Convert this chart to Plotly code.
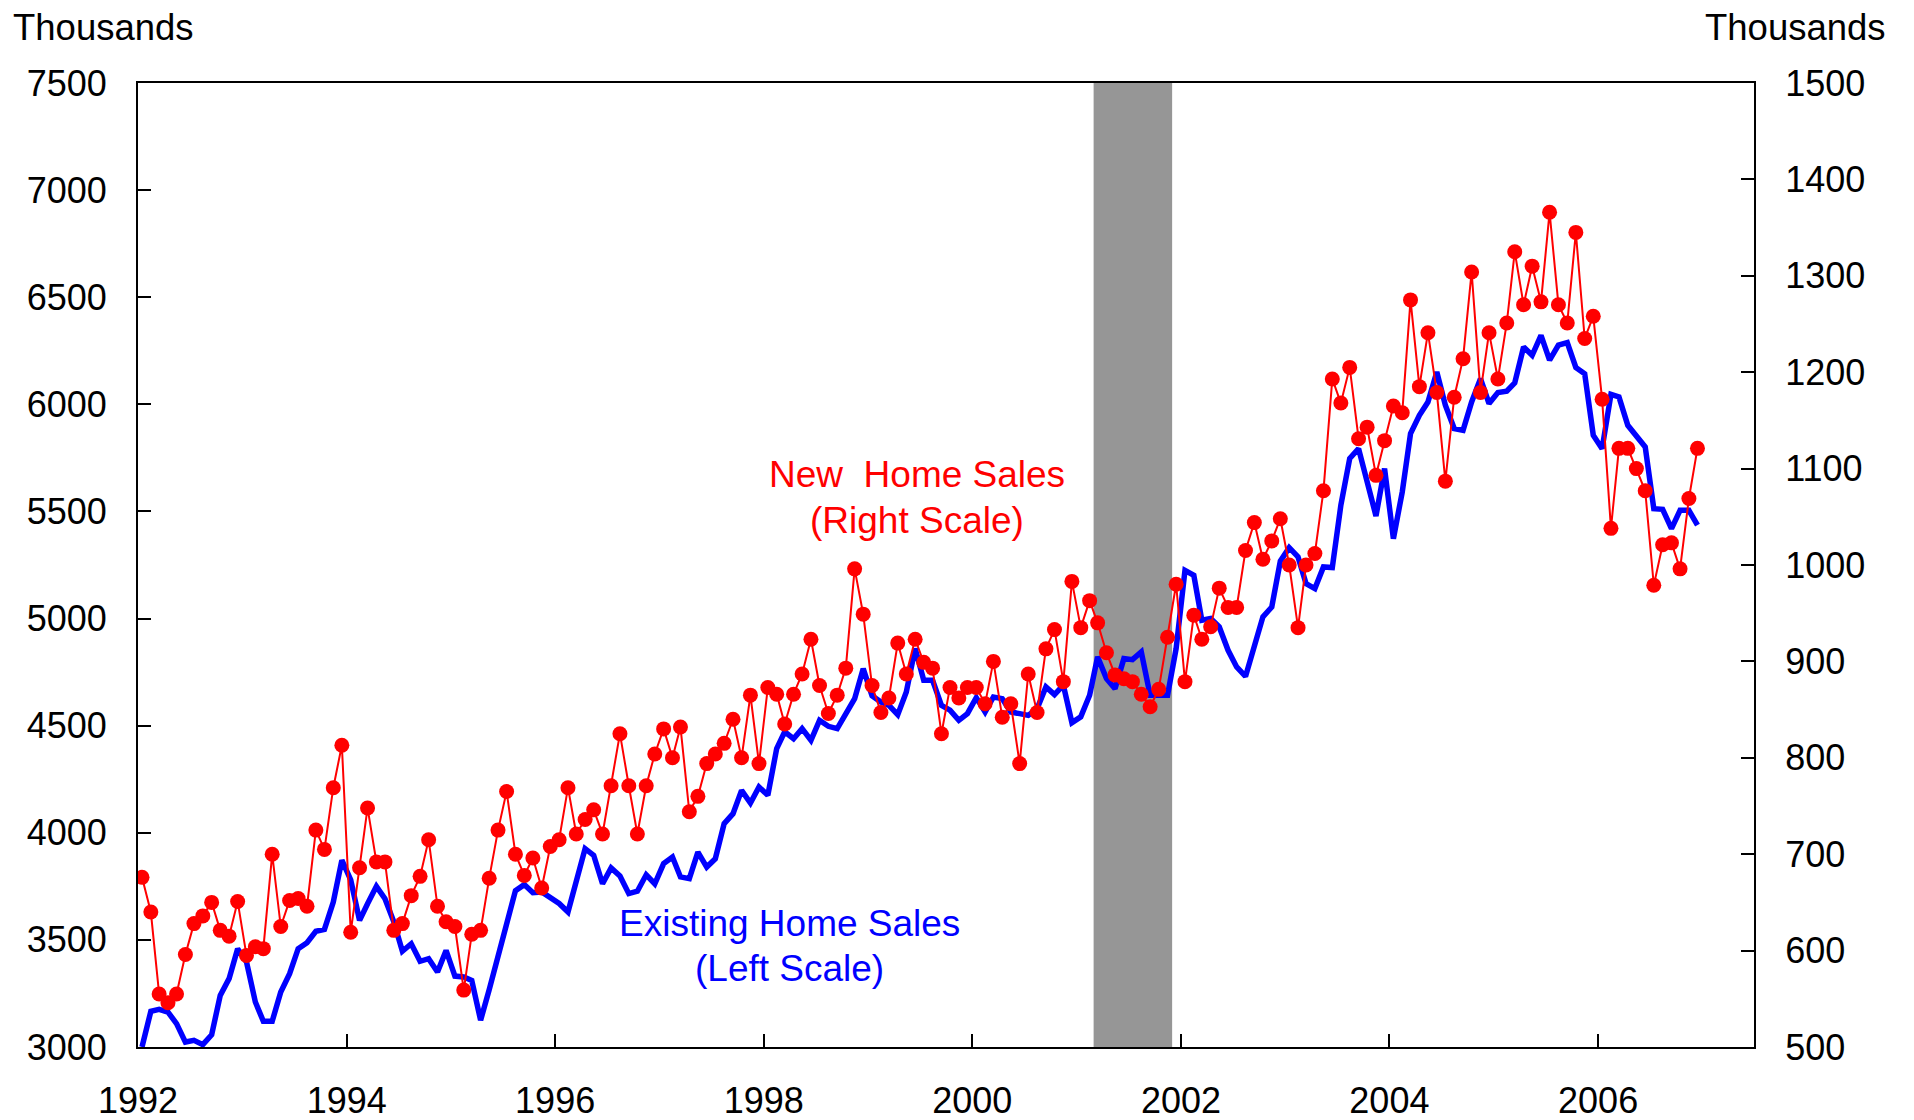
"""Existing vs new home sales, 1992-2006, monthly (thousands, SAAR) with the 2001 recession shaded."""

import pandas as pd
import plotly.graph_objects as go

# monthly observations, Jan 1992 .. Dec 2006 (plotted mid-month)
MONTHS = pd.date_range("1992-01-01", "2006-12-01", freq="MS") + pd.Timedelta(days=14)

# existing home sales, thousands (left scale)
EXISTING = [
    3000, 3167, 3176, 3163, 3109, 3023, 3031, 3011, 3057, 3241, 3319, 3459,  # 1992
    3397, 3210, 3120, 3120, 3257, 3342, 3459, 3487, 3540, 3549, 3677, 3872,  # 1993
    3780, 3591, 3669, 3750, 3692, 3584, 3447, 3482, 3400, 3412, 3350, 3451,  # 1994
    3331, 3327, 3311, 3125, 3267, 3417, 3566, 3730, 3758, 3720, 3724, 3700,  # 1995
    3670, 3630, 3778, 3926, 3895, 3762, 3836, 3798, 3716, 3727, 3804, 3762,  # 1996
    3856, 3887, 3794, 3786, 3910, 3840, 3879, 4043, 4089, 4198, 4139, 4214,  # 1997
    4175, 4393, 4471, 4439, 4486, 4432, 4525, 4497, 4486, 4556, 4626, 4766,  # 1998
    4640, 4610, 4595, 4551, 4657, 4860, 4712, 4712, 4595, 4572, 4525, 4556,  # 1999
    4631, 4564, 4634, 4626, 4564, 4556, 4548, 4579, 4681, 4645, 4689, 4514,  # 2000
    4541, 4642, 4821, 4720, 4673, 4813, 4808, 4844, 4642, 4642, 4642, 4860,  # 2001
    5225, 5202, 4992, 5000, 4961, 4852, 4774, 4730, 4867, 5008, 5054, 5268,  # 2002
    5331, 5288, 5163, 5140, 5241, 5238, 5529, 5747, 5793, 5630, 5479, 5700,  # 2003
    5373, 5591, 5863, 5949, 6011, 6151, 5996, 5887, 5879, 6011, 6120, 6004,  # 2004
    6055, 6061, 6100, 6268, 6229, 6322, 6206, 6276, 6288, 6172, 6143, 5856,  # 2005
    5793, 6047, 6035, 5902, 5848, 5801, 5513, 5510, 5420, 5505, 5505, 5436,  # 2006
]

# new home sales, thousands (right scale)
NEW = [
    676, 640, 555, 546, 555, 596, 628, 636, 650, 621, 615, 651,  # 1992
    595, 604, 602, 700, 625, 652, 654, 646, 725, 705, 769, 813,  # 1993
    619, 686, 748, 692, 692, 621, 628, 657, 677, 715, 646, 630,  # 1994
    625, 559, 617, 621, 675, 725, 765, 700, 678, 696, 665, 708,  # 1995
    715, 769, 721, 736, 746, 721, 771, 825, 771, 721, 771, 804,  # 1996
    830, 800, 832, 744, 760, 794, 804, 815, 840, 800, 865, 794,  # 1997
    873, 866, 835, 866, 887, 923, 875, 846, 865, 893, 996, 949,  # 1998
    875, 847, 862, 919, 887, 923, 899, 893, 825, 873, 862, 873,  # 1999
    873, 856, 900, 842, 856, 794, 887, 847, 913, 933, 879, 983,  # 2000
    935, 963, 940, 909, 886, 882, 879, 866, 853, 871, 925, 980,  # 2001
    879, 948, 923, 936, 976, 956, 956, 1015, 1044, 1006, 1025, 1048,  # 2002
    1000, 935, 1000, 1012, 1077, 1193, 1168, 1205, 1131, 1143, 1093, 1129,  # 2003
    1165, 1158, 1275, 1185, 1241, 1179, 1087, 1174, 1214, 1304, 1179, 1241,  # 2004
    1193, 1251, 1325, 1270, 1310, 1273, 1366, 1270, 1251, 1345, 1235, 1258,  # 2005
    1172, 1038, 1121, 1121, 1100, 1077, 979, 1021, 1023, 996, 1069, 1121,  # 2006
]

RECESSION = ("2001-03-01", "2001-12-01")

FONT = "Arial, Liberation Sans, sans-serif"
BLUE = "#0000ff"
RED = "#ff0000"


def _label(text, x, y, color, size=37, xanchor="center"):
    # free-standing text placed in paper coordinates
    return {
        "text": text,
        "xref": "paper",
        "yref": "paper",
        "x": x,
        "y": y,
        "xanchor": xanchor,
        "yanchor": "middle",
        "showarrow": False,
        "font": {"size": size, "color": color, "family": FONT},
    }


fig = go.Figure()

fig.add_shape(
    type="rect",
    xref="x",
    yref="paper",
    x0=RECESSION[0],
    x1=RECESSION[1],
    y0=0,
    y1=1,
    fillcolor="#969696",
    line={"width": 0},
    layer="below",
)

fig.add_trace(
    go.Scatter(
        x=MONTHS,
        y=EXISTING,
        mode="lines",
        line={"color": BLUE, "width": 5.5},
        name="Existing Home Sales",
        yaxis="y",
    )
)
fig.add_trace(
    go.Scatter(
        x=MONTHS,
        y=NEW,
        mode="lines+markers",
        line={"color": RED, "width": 2},
        marker={"color": RED, "size": 15},
        name="New Home Sales",
        yaxis="y2",
    )
)

axis_common = {
    "showline": True,
    "linecolor": "black",
    "linewidth": 2,
    "ticks": "inside",
    "ticklen": 13,
    "tickwidth": 2,
    "tickcolor": "black",
    "showgrid": False,
    "zeroline": False,
    "automargin": False,
    "tickfont": {"size": 36, "color": "black", "family": FONT},
}

# the page body keeps an 8px margin, so the figure is sized to fit inside the window
fig.update_layout(
    width=1906,
    height=1112,
    paper_bgcolor="white",
    plot_bgcolor="white",
    showlegend=False,
    margin={"l": 130, "r": 160, "t": 75, "b": 73},
    font={"family": FONT, "size": 36, "color": "black"},
    xaxis={
        **axis_common,
        "type": "date",
        "range": ["1992-01-01", "2007-07-01"],
        "tick0": "1992-01-01",
        "dtick": "M24",
        "tickformat": "%Y",
        "mirror": True,
        "ticklabelstandoff": 21,
    },
    yaxis={
        **axis_common,
        "range": [3000, 7500],
        "dtick": 500,
        "mirror": True,
        "ticklabelstandoff": 22,
    },
    yaxis2={
        **axis_common,
        "range": [500, 1500],
        "dtick": 100,
        "overlaying": "y",
        "side": "right",
        "ticklabelstandoff": 22,
    },
    annotations=[
        _label("Thousands", -0.0787, 1.058, "black", size=36.5, xanchor="left"),
        _label("Thousands", 1.0831, 1.058, "black", size=36.5, xanchor="right"),
        _label("New  Home Sales", 0.4819, 0.5934, RED),
        _label("(Right Scale)", 0.4819, 0.5464, RED),
        _label("Existing Home Sales", 0.4030, 0.1281, BLUE),
        _label("(Left Scale)", 0.4030, 0.0812, BLUE),
    ],
)

fig.write_html("out.html")
